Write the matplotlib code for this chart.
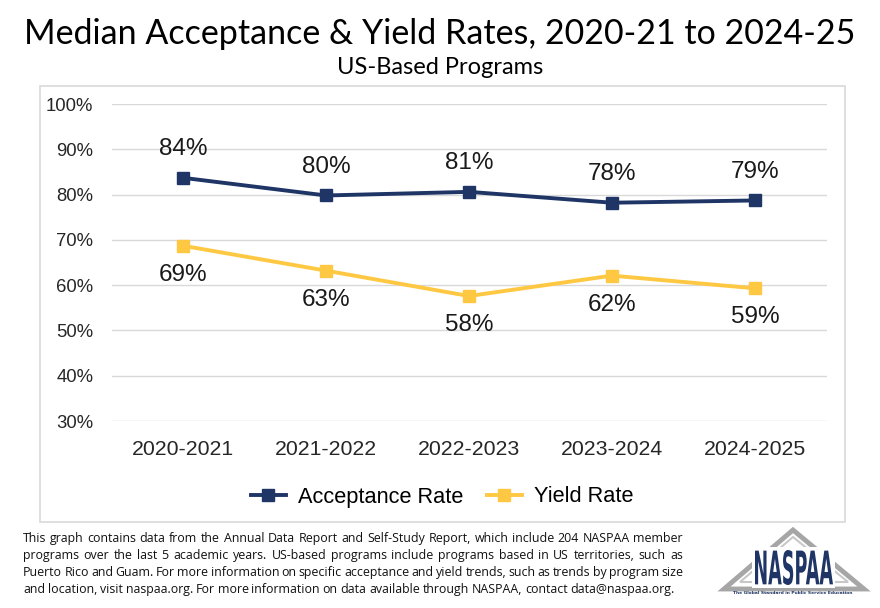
import numpy as np
import matplotlib
matplotlib.use('Agg')
import matplotlib.pyplot as plt
from matplotlib.patches import Rectangle, Polygon, PathPatch
from matplotlib.lines import Line2D
from matplotlib.textpath import TextPath
from matplotlib.font_manager import FontProperties
from matplotlib.transforms import Affine2D, IdentityTransform

years = ['2020-2021', '2021-2022', '2022-2023', '2023-2024', '2024-2025']
acceptance = [83.7, 79.8, 80.6, 78.2, 78.7]
acceptance_labels = ['84%', '80%', '81%', '78%', '79%']
yield_rate = [68.7, 63.2, 57.6, 62.1, 59.3]
yield_labels = ['69%', '63%', '58%', '62%', '59%']
yticks = [30, 40, 50, 60, 70, 80, 90, 100]

navy = '#1f3566'
gold = '#ffc843'
W, H = 880, 608

fig = plt.figure(figsize=(W / 100, H / 100), dpi=100)

def fx(px):
    return px / W

def fy(py):
    return 1 - py / H

# chart frame
fig.patches.append(Rectangle((fx(40), fy(522)), fx(845) - fx(40), fy(86) - fy(522),
                             transform=fig.transFigure, fill=False,
                             edgecolor='#d9d9d9', lw=1.2))

ax = fig.add_axes([fx(111.5), fy(421), fx(826.5) - fx(111.5), fy(104) - fy(421)])
x = np.arange(len(years))
ax.plot(x, acceptance, color=navy, lw=2.8, marker='s', ms=8.5, zorder=3)
ax.plot(x, yield_rate, color=gold, lw=2.8, marker='s', ms=8.5, zorder=3)
for i in range(len(x)):
    ax.annotate(acceptance_labels[i], (x[i], acceptance[i]), xytext=(0, 20.5),
                textcoords='offset points', ha='center', va='center',
                fontsize=17.5, family='Liberation Sans', color='#1a1a1a')
    ax.annotate(yield_labels[i], (x[i], yield_rate[i]), xytext=(0, -21),
                textcoords='offset points', ha='center', va='center',
                fontsize=17.5, family='Liberation Sans', color='#1a1a1a')

ax.set_xlim(-0.5, 4.5)
ax.set_ylim(30, 100)
ax.set_yticks(yticks)
ax.set_yticklabels([f'{v}%' for v in yticks], family='Liberation Sans', fontsize=13.3, color='#262626')
ax.set_xticks(x)
ax.set_xticklabels(years, family='Liberation Sans', fontsize=15.3, color='#262626')
ax.tick_params(axis='y', length=0, pad=13)
ax.tick_params(axis='x', length=0, pad=14)
ax.grid(axis='y', color='#d9d9d9', lw=1)
ax.set_axisbelow(True)
for s in ax.spines.values():
    s.set_visible(False)

handles = [Line2D([], [], color=navy, lw=2.8, marker='s', ms=8.5),
           Line2D([], [], color=gold, lw=2.8, marker='s', ms=8.5)]
fig.legend(handles, ['Acceptance Rate', 'Yield Rate'], loc='center',
           bbox_to_anchor=(fx(442), fy(497)), ncol=2, frameon=False,
           prop={'family': 'Liberation Sans', 'size': 15.7}, handlelength=1.6,
           columnspacing=1.1, handletextpad=0.55)

fig.text(0.5, fy(34), 'Median Acceptance & Yield Rates, 2020-21 to 2024-25',
         ha='center', va='center', fontsize=24.5, family='Lato')
fig.text(0.5, fy(67), 'US-Based Programs', ha='center', va='center',
         fontsize=17, family='Lato')

# footer note, justified
note_lines = [
    'This graph contains data from the Annual Data Report and Self-Study Report, which include 204 NASPAA member',
    'programs over the last 5 academic years. US-based programs include programs based in US territories, such as',
    'Puerto Rico and Guam. For more information on specific acceptance and yield trends, such as trends by program size',
    'and location, visit naspaa.org. For more information on data available through NASPAA, contact data@naspaa.org.',
]
renderer = fig.canvas.get_renderer()
left, right = 23, 683
for k, line in enumerate(note_lines):
    ypos = fy(542 + 17 * k)
    words = line.split(' ')
    txts = [fig.text(0, ypos, w, fontsize=8.9, family='Open Sans', va='baseline', color='#111111')
            for w in words]
    widths = [t.get_window_extent(renderer).width for t in txts]
    if k < len(note_lines) - 1:
        gap = (right - left - sum(widths)) / (len(words) - 1)
    else:
        gap = 2.8
    cur = left
    for t, wd in zip(txts, widths):
        t.set_x(fx(cur))
        cur += wd + gap

# logo
fig.patches.append(Polygon([(fx(724), fy(589)), (fx(793), fy(530)), (fx(864), fy(589))],
                           closed=True, fill=False, edgecolor='#a6a6a6', lw=3.5,
                           transform=fig.transFigure))
fig.patches.append(Polygon([(fx(740), fy(582)), (fx(793), fy(537)), (fx(848), fy(582))],
                           closed=True, fill=False, edgecolor='#c8c8c8', lw=1.5,
                           transform=fig.transFigure))
fig.patches.append(Rectangle((fx(752), fy(588)), fx(835) - fx(752), fy(547) - fy(588),
                             transform=fig.transFigure, color='white', lw=0))
tp = TextPath((0, 0), 'NASPAA', size=10, prop=FontProperties(family='DejaVu Sans', weight='bold'))
bb = tp.get_extents()
sx = (833 - 755) / bb.width
sy = (585 - 550) / bb.height
tr = Affine2D().translate(-bb.x0, -bb.y0).scale(sx, sy).translate(755, H - 585)
fig.patches.append(PathPatch(tr.transform_path(tp), transform=IdentityTransform(),
                             facecolor=navy, edgecolor='none'))
fig.text(fx(793), fy(593), 'The Global Standard in Public Service Education',
         ha='center', va='center', fontsize=3.2, weight='bold', color=navy)

fig.savefig('out.png', dpi=100)
